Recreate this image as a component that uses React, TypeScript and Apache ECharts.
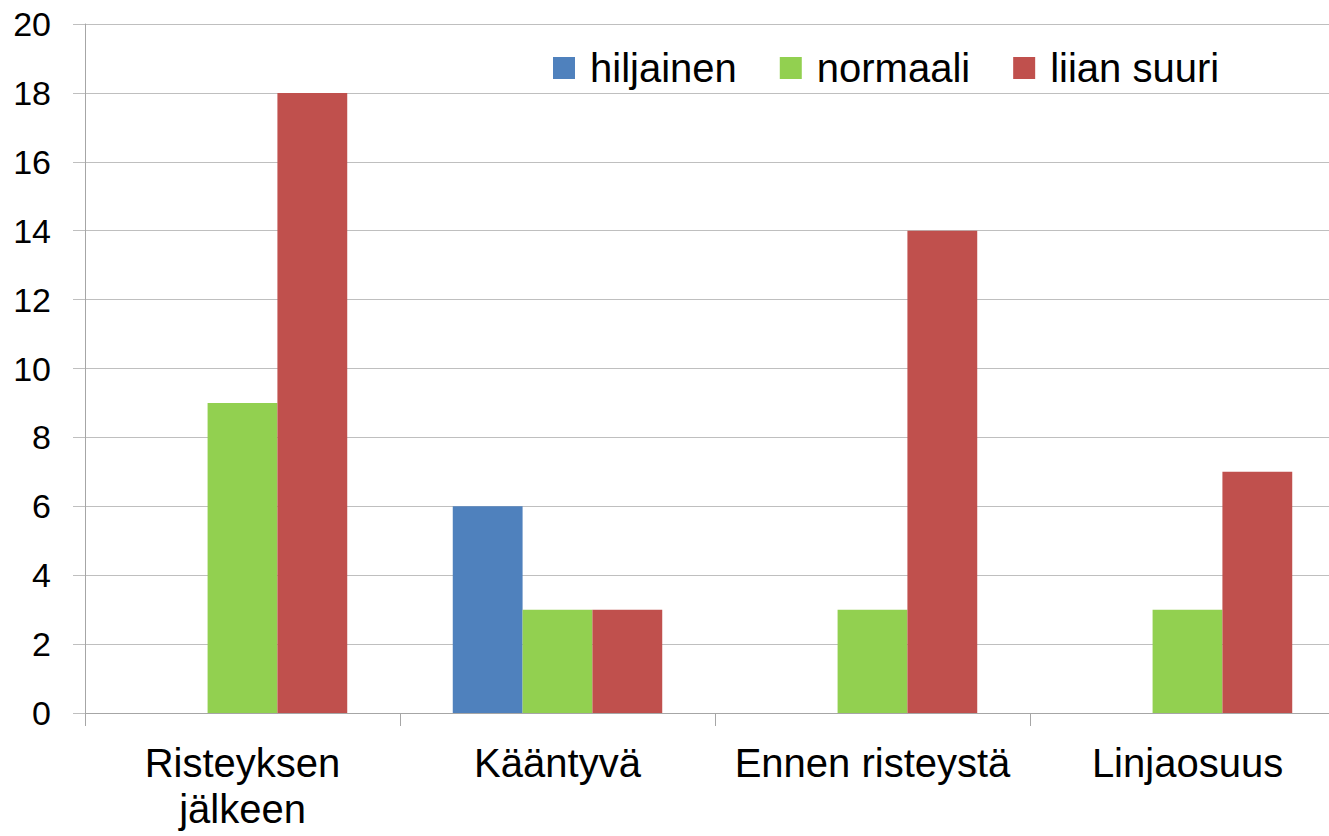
import React, { useEffect, useRef } from "react";
import * as echarts from "echarts";

const categories = ["Risteyksen\njälkeen", "Kääntyvä", "Ennen risteystä", "Linjaosuus"];
const seriesNames = ["hiljainen", "normaali", "liian suuri"];
const hiljainen = [0, 6, 0, 0];
const normaali = [9, 3, 3, 3];
const liianSuuri = [18, 3, 14, 7];
const colors = ["#4F81BD", "#92D050", "#C0504D"];

export default function App() {
  const ref = useRef<HTMLDivElement>(null);
  useEffect(() => {
    if (!ref.current) return;
    const chart = echarts.init(ref.current, null, { renderer: "svg" });
    const font = "Liberation Sans, Arial, sans-serif";
    const data = [hiljainen, normaali, liianSuuri];
    chart.setOption({
      animation: false,
      textStyle: { fontFamily: font },
      legend: {
        left: 548,
        top: 43,
        itemWidth: 22,
        itemHeight: 22,
        itemGap: 43,
        icon: "rect",
        textStyle: { fontSize: 40, color: "#000", fontFamily: font, padding: [0, 0, 0, 10] },
        data: seriesNames,
      },
      grid: { left: 85, top: 24, bottom: 123, right: 0, containLabel: false },
      xAxis: {
        type: "category",
        data: categories,
        axisLine: { lineStyle: { color: "#A6A6A6", width: 1 } },
        axisTick: { show: true, length: 13, lineStyle: { color: "#A6A6A6" } },
        axisLabel: { fontSize: 40, color: "#000", margin: 27, lineHeight: 46, interval: 0 },
      },
      yAxis: {
        type: "value",
        min: 0,
        max: 20,
        interval: 2,
        axisLine: { show: true, lineStyle: { color: "#A6A6A6", width: 1 } },
        axisTick: { show: true, length: 12, lineStyle: { color: "#BFBFBF" } },
        splitLine: { lineStyle: { color: "#BFBFBF", width: 1 } },
        axisLabel: { fontSize: 34, color: "#000", margin: 34 },
      },
      series: seriesNames.map((name, i) => ({
        name,
        type: "bar",
        data: data[i],
        barGap: "0%",
        barCategoryGap: "33.5%",
        itemStyle: { color: colors[i] },
      })),
    });
    return () => chart.dispose();
  }, []);
  return (
    <div
      style={{ position: "fixed", left: 0, top: 0, width: 1329, height: 836, overflow: "hidden", background: "#fff" }}
    >
      <div ref={ref} style={{ width: 1345, height: 836 }} />
    </div>
  );
}
